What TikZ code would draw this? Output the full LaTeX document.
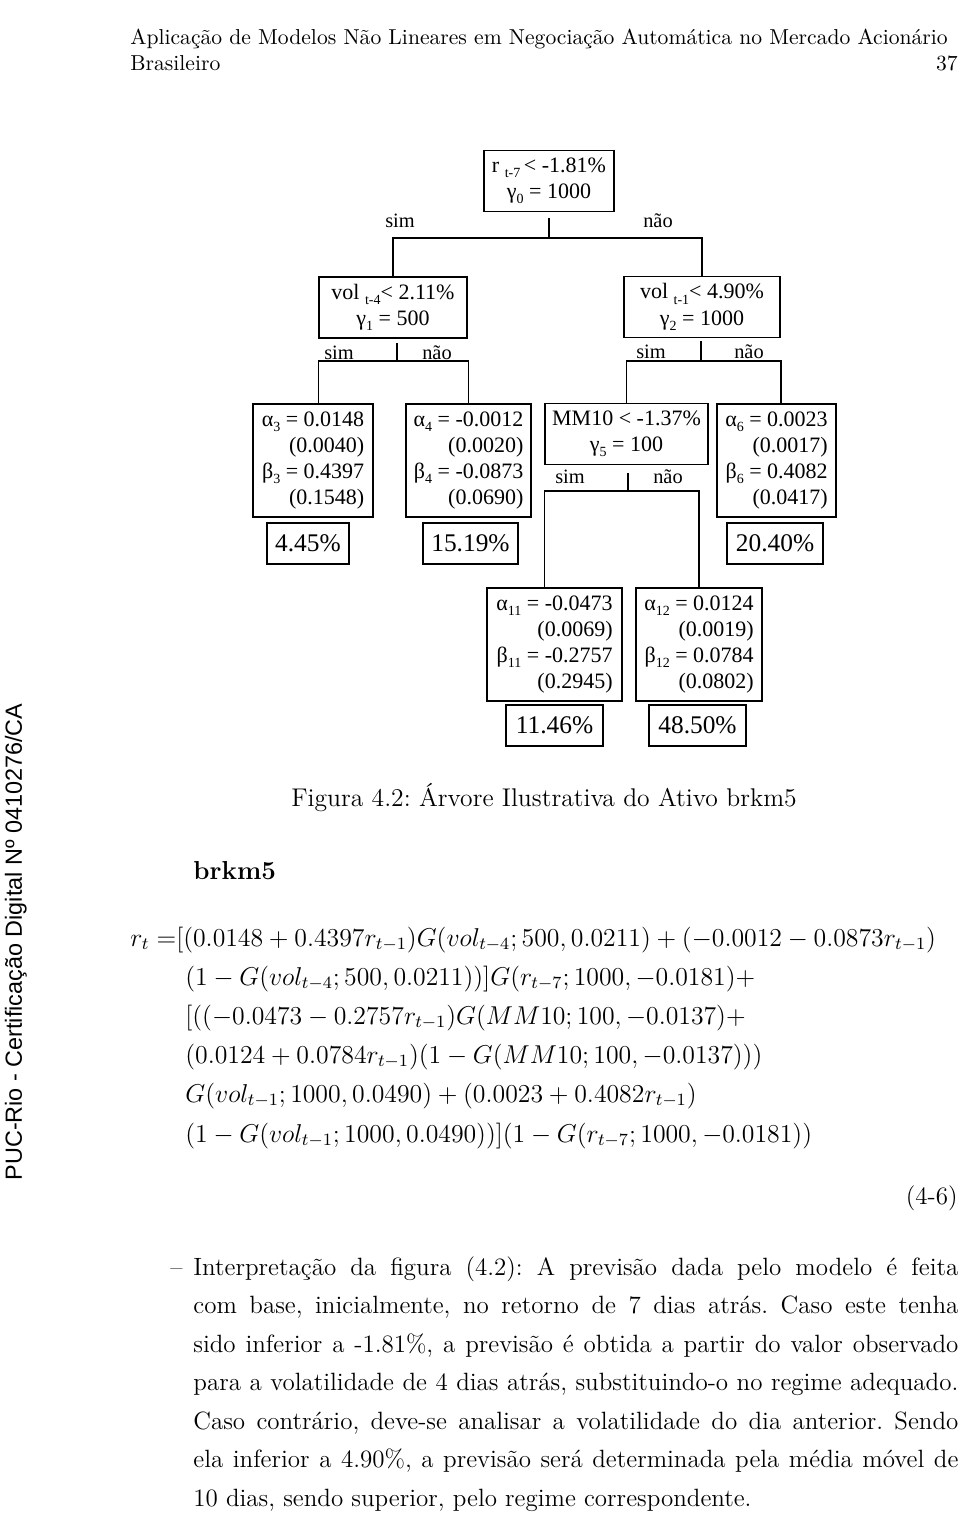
\documentclass[tikz,border=0pt]{standalone}
\usepackage{graphicx}
\usepackage{fontspec}
\usetikzlibrary{positioning}
\newfontfamily\timesf{Liberation Serif}
\newfontfamily\arialf{Liberation Sans}
\newcommand{\treefont}{\timesf\fontsize{11}{13.15}\selectfont}
\newcommand{\branchfont}{\timesf\fontsize{10.2}{12}\selectfont}
\newcommand{\pctfont}{\timesf\fontsize{12.7}{15}\selectfont}
\newcommand{\bodyfont}{\fontsize{12.5}{19.25}\selectfont}
\newcommand{\formfont}{\fontsize{12}{19.5}\selectfont}
\newcommand{\headfont}{\fontsize{10.8}{13}\selectfont}
\newcommand{\sbt}[1]{\raisebox{-0.5ex}{\fontsize{7}{7}\selectfont #1}}
\newcommand{\eqline}[1]{\scalebox{1.075}{$#1$}}
\frenchspacing

\begin{document}
\begin{tikzpicture}[x=0.5pt, y=-0.5pt,
    treebox/.style={draw, line width=0.75pt, inner sep=0pt, font=\treefont},
    testbox/.style={treebox, align=center, minimum height=30.5pt},
    leafbox/.style={treebox, align=right, minimum height=56.5pt},
    pctbox/.style={treebox, font=\pctfont, minimum height=20.5pt},
    branch/.style={font=\branchfont, inner sep=0pt},
    link/.style={line width=0.75pt},
    body/.style={inner sep=0pt, font=\bodyfont},
    formula/.style={inner sep=0pt, font=\formfont, anchor=base west}]
    \useasboundingbox (0,0) rectangle (960,1517);

    % running head
    \node[body, font=\headfont, anchor=base west] (head1) at (130,44)
      {Aplicação de Modelos Não Lineares em Negociação Automática no Mercado Acionário};
    \node[body, font=\headfont, anchor=base west] (head2) at (130,70) {Brasileiro};
    \node[body, font=\headfont, anchor=base east] (pageno) at (958,70) {37};

    % side stamp
    \node[rotate=90, inner sep=0pt, font=\arialf\fontsize{11.7}{14}\selectfont] (stamp) at (16,942)
      {PUC-Rio - Certificação Digital Nº 0410276/CA};

    % tree: tests
    \node[testbox, minimum width=65pt] (root) at (549,181) {r \sbt{t-7}\,< -1.81\%\\ γ\sbt{0} = 1000};
    \node[testbox, minimum width=74pt] (volA) at (393,307.5) {vol \sbt{t-4}< 2.11\%\\ γ\sbt{1} = 500};
    \node[testbox, minimum width=78pt] (volB) at (702,307) {vol \sbt{t-1}< 4.90\%\\ γ\sbt{2} = 1000};
    \node[testbox, minimum width=81.5pt] (mm) at (626.5,434) {MM10 < -1.37\%\\ γ\sbt{5} = 100};

    % tree: regimes
    \node[leafbox, minimum width=60pt] (a3) at (313,460.5)
      {α\sbt{3} = 0.0148\\ (0.0040)\\ β\sbt{3} = 0.4397\\ (0.1548)};
    \node[leafbox, minimum width=62.5pt] (a4) at (468.5,460.5)
      {α\sbt{4} = -0.0012\\ (0.0020)\\ β\sbt{4} = -0.0873\\ (0.0690)};
    \node[leafbox, minimum width=59.5pt] (a6) at (776.5,460.5)
      {α\sbt{6} = 0.0023\\ (0.0017)\\ β\sbt{6} = 0.4082\\ (0.0417)};
    \node[leafbox, minimum width=67.5pt] (a11) at (554.5,644.5)
      {α\sbt{11} = -0.0473\\ (0.0069)\\ β\sbt{11} = -0.2757\\ (0.2945)};
    \node[leafbox, minimum width=63pt] (a12) at (699,644.5)
      {α\sbt{12} = 0.0124\\ (0.0019)\\ β\sbt{12} = 0.0784\\ (0.0802)};

    \node[pctbox, minimum width=41pt] (p3) at (308,543.5) {4.45\%};
    \node[pctbox, minimum width=47.5pt] (p4) at (470.5,543.5) {15.19\%};
    \node[pctbox, minimum width=48pt] (p6) at (775,543.5) {20.40\%};
    \node[pctbox, minimum width=48.5pt] (p11) at (554.5,725.5) {11.46\%};
    \node[pctbox, minimum width=48.5pt] (p12) at (697.5,725.5) {48.50\%};

    % branch labels
    \node[branch] (sim0) at (400,221) {sim};
    \node[branch] (nao0) at (658,221) {não};
    \node[branch] (sim1) at (339,353) {sim};
    \node[branch] (nao1) at (437,353) {não};
    \node[branch] (sim2) at (651,352) {sim};
    \node[branch] (nao2) at (749,352) {não};
    \node[branch] (sim5) at (570,477) {sim};
    \node[branch] (nao5) at (668,477) {não};

    % branches
    \coordinate (j0) at (549,238);
    \coordinate (j1) at (397,361);
    \coordinate (j2) at (701,361);
    \coordinate (j5) at (628,491);
    \draw[link] (root.south) ++(0,6) -- (j0);
    \draw[link] (volA.north) |- (j0) -| (volB.north);
    \draw[link] (volA.south -| j1) ++(0,4) -- (j1);
    \draw[link] (volA.west |- a3.north) |- (j1) -| (a4.north);
    \draw[link] (volB.south -| j2) ++(0,3) -- (j2);
    \draw[link] (mm.north) |- (j2) -| (volB.east |- a6.north);
    \draw[link] (mm.south -| j5) ++(0,8) -- (j5);
    \draw[link] (mm.west |- a11.north) |- (j5) -| (a12.north);

    % caption and model
    \node[body, font=\fontsize{12.8}{15}\selectfont, anchor=base] (caption) at (544,806)
      {Figura 4.2: Árvore Ilustrativa do Ativo brkm5};
    \node[body, anchor=base west, font=\fontsize{13}{15}\selectfont\bfseries] (asset) at (193,879) {brkm5};

    \node[formula] (f1) at (130,946)
      {\eqline{r_t \;{=}[(0.0148+0.4397r_{t-1})G(vol_{t-4};500,0.0211)+(-0.0012-0.0873r_{t-1})}};
    \node[formula] (f2) at (185,985)
      {\eqline{(1-G(vol_{t-4};500,0.0211))]G(r_{t-7};1000,-0.0181)+}};
    \node[formula] (f3) at (185,1024)
      {\eqline{[((-0.0473-0.2757r_{t-1})G(MM10;100,-0.0137)+}};
    \node[formula] (f4) at (185,1063)
      {\eqline{(0.0124+0.0784r_{t-1})(1-G(MM10;100,-0.0137)))}};
    \node[formula] (f5) at (185,1102)
      {\eqline{G(vol_{t-1};1000,0.0490)+(0.0023+0.4082r_{t-1})}};
    \node[formula] (f6) at (185,1142)
      {\eqline{(1-G(vol_{t-1};1000,0.0490))](1-G(r_{t-7};1000,-0.0181))}};
    \node[body, anchor=base east] (eqno) at (958,1204) {(4-6)};

    % interpretation
    \node[body, anchor=base west] (dash) at (170,1275) {--};
    \node[body, anchor=base west] (para) at (193,1275) {\parbox[t]{382.5pt}{%
      Interpretação da figura (4.2): A previsão dada pelo modelo é feita\linebreak
      com base, inicialmente, no retorno de 7 dias atrás. Caso este tenha\linebreak
      sido inferior a -1.81\%, a previsão é obtida a partir do valor observado\linebreak
      para a volatilidade de 4 dias atrás, substituindo-o no regime adequado.\linebreak
      Caso contrário, deve-se analisar a volatilidade do dia anterior. Sendo\linebreak
      ela inferior a 4.90\%, a previsão será determinada pela média móvel de\linebreak
      10 dias, sendo superior, pelo regime correspondente.}};
\end{tikzpicture}
\end{document}
